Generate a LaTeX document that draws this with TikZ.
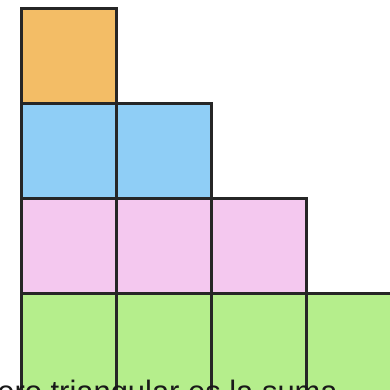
\documentclass[tikz,border=0pt]{standalone}
\usepackage{fontspec}
\setmainfont{Liberation Sans}
\definecolor{naranja}{HTML}{F3BD66}
\definecolor{azul}{HTML}{8FCEF6}
\definecolor{rosa}{HTML}{F4C8EF}
\definecolor{verde}{HTML}{B5EE8C}
\begin{document}
\begin{tikzpicture}
        \tikzset{cuadro/.style={draw=black!85, line width=1.7pt, minimum width=1.9cm, minimum height=1.9cm, inner sep=0pt, anchor=north west}}
        % Marco del dibujo
        \useasboundingbox (0,0) rectangle (7.8,7.78);
        \clip (0,0) rectangle (7.8,7.78);
        
        % Fila de abajo (4 cuadros)
        \foreach \i in {0,...,3}
            \node[cuadro, fill=verde, minimum height=2.3cm] (v\i) at (0.4+1.9*\i, 1.94) {};
        % Tercera fila (3 cuadros)
        \foreach \i in {0,...,2}
            \node[cuadro, fill=rosa] (r\i) at (0.4+1.9*\i, 3.84) {};
        % Segunda fila (2 cuadros)
        \foreach \i in {0,1}
            \node[cuadro, fill=azul] (a\i) at (0.4+1.9*\i, 5.74) {};
        % Fila de arriba (1 cuadro)
        \node[cuadro, fill=naranja] (n0) at (0.4, 7.64) {};
        
        % Texto cortado abajo
        \node[anchor=base west, inner sep=0pt, text=black!90, font=\fontsize{17.6}{20}\selectfont] (leyenda) at (-0.06,-0.27) {ero triangular es la suma};
        
    \end{tikzpicture}
\end{document}
